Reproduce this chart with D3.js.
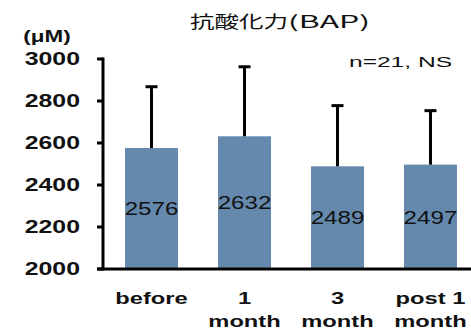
<!DOCTYPE html>
<html>
<head>
<meta charset="utf-8">
<script src="https://cdn.jsdelivr.net/npm/d3@7"></script>
<style>
  html, body { margin: 0; padding: 0; background: #fff; }
  svg { display: block; }
</style>
</head>
<body>
<svg id="chart" width="471" height="334"></svg>
<script>
// Antioxidant capacity (BAP) at each time point, mean with +SD
const categories = ["before", "1 month", "3 month", "post 1 month"];
const categoryLines = [["before"], ["1", "month"], ["3", "month"], ["post 1", "month"]];
const means = [2576, 2632, 2489, 2497];
const sds = [292, 331, 289, 257];
const yTicks = [2000, 2200, 2400, 2600, 2800, 3000];
const titleCJK = "抗酸化力";
const titleLatin = "(BAP)";
const unitLabel = "(μM)";
const noteLabel = "n=21, NS";

const svg = d3.select("#chart");
const barColor = "#6489ad";
const latin = "'Liberation Sans', Arial, sans-serif";
const axisX = 103;

const x = d3.scaleBand()
  .domain(categories)
  .range([104, 478])
  .paddingInner(0.43)
  .paddingOuter(0.226);

const y = d3.scaleLinear().domain([2000, 3000]).range([269, 59]);

// widen glyphs horizontally by a factor, keeping the anchor
function stretch(sel, k) {
  sel.each(function () {
    const w = this.getComputedTextLength();
    d3.select(this).attr("textLength", w * k).attr("lengthAdjust", "spacingAndGlyphs");
  });
}

// bars
svg.append("g").selectAll("rect")
  .data(categories)
  .join("rect")
  .attr("x", d => x(d))
  .attr("width", x.bandwidth())
  .attr("y", (d, i) => y(means[i]))
  .attr("height", (d, i) => y(2000) - y(means[i]))
  .attr("fill", barColor);

// upward error bars
const err = svg.append("g").attr("stroke", "#000").attr("stroke-width", 3);
categories.forEach((c, i) => {
  const cx = x(c) + x.bandwidth() / 2;
  err.append("line")
    .attr("x1", cx).attr("x2", cx)
    .attr("y1", y(means[i])).attr("y2", y(means[i] + sds[i]));
  err.append("line")
    .attr("x1", cx - 6).attr("x2", cx + 6)
    .attr("y1", y(means[i] + sds[i])).attr("y2", y(means[i] + sds[i]));
});

// value labels in the middle of each bar
svg.append("g").selectAll("text")
  .data(categories)
  .join("text")
  .attr("x", d => x(d) + x.bandwidth() / 2)
  .attr("y", (d, i) => (y(means[i]) + y(2000)) / 2)
  .attr("dy", "0.36em")
  .attr("text-anchor", "middle")
  .attr("font-family", latin)
  .attr("font-size", 19)
  .attr("fill", "#111")
  .text((d, i) => means[i])
  .call(stretch, 1.27);

// y axis labels
const yAxis = svg.append("g")
  .attr("transform", `translate(${axisX},0)`)
  .call(d3.axisLeft(y).tickValues(yTicks).tickFormat(d3.format("d"))
    .tickSize(0).tickSizeOuter(0).tickPadding(23));
yAxis.select(".domain").remove();
yAxis.selectAll(".tick text")
  .attr("font-family", latin)
  .attr("font-weight", "bold")
  .attr("font-size", 17.5)
  .attr("fill", "#111")
  .call(stretch, 1.42);

// axis lines and tick marks as filled strips
const axisMarks = svg.append("g").attr("fill", "#000");
axisMarks.append("rect")
  .attr("x", axisX - 1.5).attr("width", 3)
  .attr("y", y(3000) - 1.5).attr("height", y(2000) - y(3000) + 3);
axisMarks.selectAll("rect.tick")
  .data(yTicks)
  .join("rect")
  .attr("class", "tick")
  .attr("x", axisX - 6).attr("width", 6)
  .attr("y", d => y(d) - 1.5).attr("height", 3);
axisMarks.append("rect")
  .attr("x", axisX - 6).attr("width", x.range()[1] - axisX + 6)
  .attr("y", y(2000) - 1.5).attr("height", 3);

// category labels (two lines where needed)
categories.forEach((c, i) => {
  categoryLines[i].forEach((line, j) => {
    svg.append("text")
      .attr("x", x(c) + x.bandwidth() / 2)
      .attr("y", 304 + j * 23)
      .attr("text-anchor", "middle")
      .attr("font-family", latin)
      .attr("font-weight", "bold")
      .attr("font-size", 16)
      .attr("fill", "#111")
      .text(line)
      .call(stretch, 1.48);
  });
});

// unit
svg.append("text")
  .attr("x", 47).attr("y", 42)
  .attr("text-anchor", "middle")
  .attr("font-family", latin)
  .attr("font-weight", "bold")
  .attr("font-size", 16)
  .attr("fill", "#111")
  .text(unitLabel)
  .call(stretch, 1.4);

// title
const title = svg.append("text")
  .attr("x", 190).attr("y", 28)
  .attr("font-family", "'Noto Sans CJK JP', sans-serif")
  .attr("font-size", 17)
  .attr("fill", "#111");
title.append("tspan").text(titleCJK).attr("textLength", 98).attr("lengthAdjust", "spacingAndGlyphs");
title.append("tspan").text(titleLatin).attr("textLength", 82).attr("lengthAdjust", "spacingAndGlyphs");

// sample size / significance note
svg.append("text")
  .attr("x", 349).attr("y", 67)
  .attr("font-family", latin)
  .attr("font-size", 14)
  .attr("fill", "#111")
  .text(noteLabel)
  .attr("textLength", 103).attr("lengthAdjust", "spacingAndGlyphs");
</script>
</body>
</html>
